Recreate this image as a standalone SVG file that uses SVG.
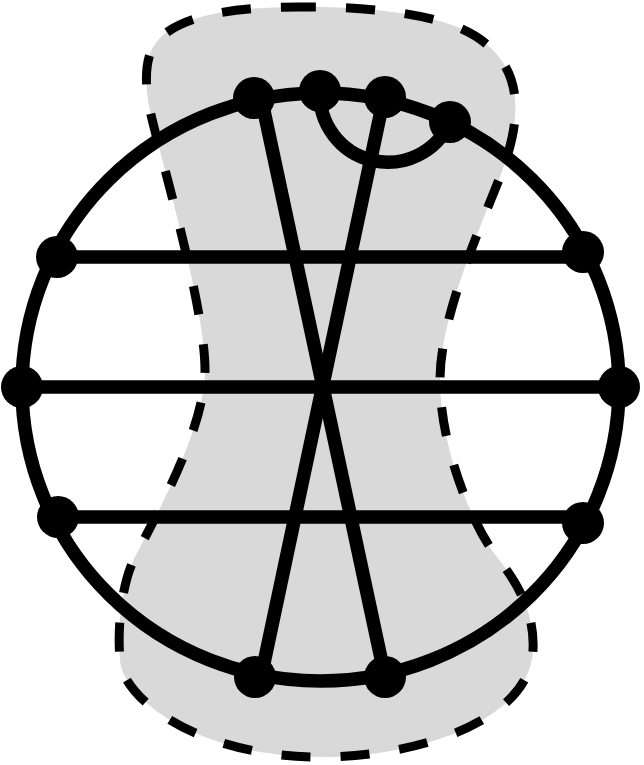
<svg xmlns="http://www.w3.org/2000/svg" width="644" height="765" viewBox="0 0 644 765">
  <style>
    .region { fill: #d9d9d9; stroke: #000; stroke-width: 9; stroke-dasharray: 29 30; }
    .edge { fill: none; stroke: #000; stroke-width: 13.5; }
    .node { fill: #000; }
  </style>
  <rect width="644" height="765" fill="#fff"/>
  <g id="region">
    <path class="region" d="M 310 7 C 240 6 185 14 160 38 C 145 52 145 78 148 100 C 152 130 205 300 205 370 C 205 420 170 490 137 553 C 122 580 117 625 120 660 C 123 700 200 757 320 757 C 420 757 530 720 533 650 C 535 610 515 580 497 557 C 475 530 440 450 440 380 C 440 320 475 240 500 177 C 510 150 517 125 515 100 C 513 65 490 40 457 27 C 420 12 360 7 310 7 Z"/>
  </g>
  <g id="connectors">
    <ellipse class="edge" cx="320.5" cy="387" rx="298.5" ry="294"/>
    <line class="edge" x1="57" y1="257" x2="583" y2="257"/>
    <line class="edge" x1="22" y1="387" x2="619" y2="387"/>
    <line class="edge" x1="58" y1="517" x2="583" y2="517"/>
    <line class="edge" x1="261" y1="97" x2="385" y2="677"/>
    <line class="edge" x1="384" y1="97" x2="261" y2="677"/>
    <path class="edge" d="M 320 91 A 68 68 0 0 0 450 122"/>
  </g>
  <g id="n1"><circle class="node" cx="254" cy="98" r="21"/></g>
  <g id="n2"><circle class="node" cx="320" cy="91" r="21"/></g>
  <g id="n3"><circle class="node" cx="385" cy="97" r="21"/></g>
  <g id="n4"><circle class="node" cx="450" cy="122" r="21"/></g>
  <g id="n5"><circle class="node" cx="57" cy="257" r="21"/></g>
  <g id="n6"><circle class="node" cx="22" cy="387" r="21"/></g>
  <g id="n7"><circle class="node" cx="58" cy="517" r="21"/></g>
  <g id="n8"><circle class="node" cx="583" cy="252" r="21"/></g>
  <g id="n9"><circle class="node" cx="619" cy="387" r="21"/></g>
  <g id="n10"><circle class="node" cx="583" cy="523" r="21"/></g>
  <g id="n11"><circle class="node" cx="255" cy="677" r="21"/></g>
  <g id="n12"><circle class="node" cx="385" cy="677" r="21"/></g>
</svg>
